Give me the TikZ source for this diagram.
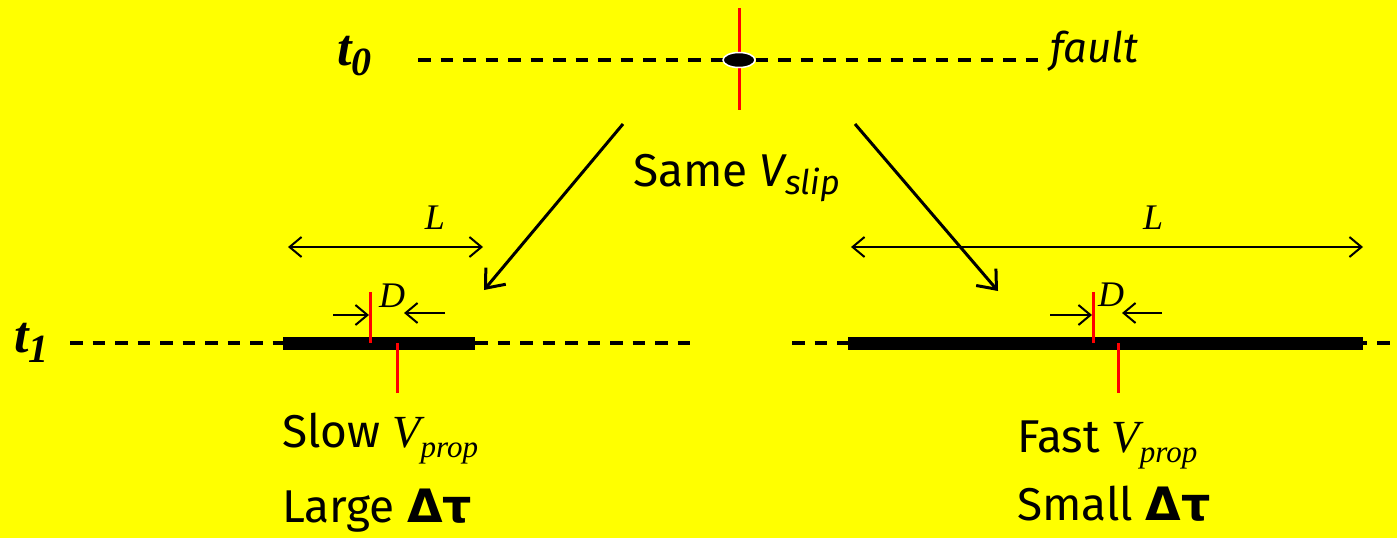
\documentclass[tikz,border=0pt]{standalone}
\usepackage{fontspec}
\usetikzlibrary{arrows.meta,shapes.geometric}
\setmainfont{Fira Sans}
\newfontfamily\tms{Liberation Serif}
\newfontfamily\grk{DejaVu Sans}
\definecolor{bgyellow}{RGB}{255,255,0}
\definecolor{slipred}{RGB}{255,0,0}
\begin{document}
\begin{tikzpicture}[x=1pt,y=-1pt,
  dsh/.style={line width=4pt, dash pattern=on 12.5pt off 10pt},
  thickbar/.style={line width=13pt},
  redl/.style={slipred, line width=3pt},
  bigarr/.style={line width=3pt, -{Straight Barb[length=16pt,width=26pt,line width=3pt]}},
  larr/.style={line width=2pt, {Straight Barb[length=12pt,width=20pt,line width=2pt]}-{Straight Barb[length=12pt,width=20pt,line width=2pt]}},
  darr/.style={line width=2pt, -{Straight Barb[length=12pt,width=20pt,line width=2pt]}},
  txt/.style={anchor=base west, inner sep=0pt, font=\fontsize{46}{50}\selectfont},
  tlab/.style={anchor=base west, inner sep=0pt},
  mlab/.style={inner sep=0pt, font=\tms\itshape\fontsize{36}{40}\selectfont}
]
\fill[bgyellow] (0,0) rectangle (1397,538);
\useasboundingbox (0,0) rectangle (1397,538);

% top fault at t0
\coordinate (f0a) at (418,60);
\coordinate (f0b) at (1040,60);
\draw[dsh] (f0a) -- (f0b);
\coordinate (r0t) at (739,8);
\coordinate (r0b) at (739,110);
\draw[redl] (r0t) -- (r0b);
\node[ellipse, fill=black, draw=white, line width=1.5pt, minimum width=32pt, minimum height=15pt, inner sep=0pt] (hypo) at (739,60) {};
\node[tlab] (t0) at (337,65) {\tms\bfseries\itshape\fontsize{52}{56}\selectfont t\raisebox{-10pt}{\fontsize{40}{40}\selectfont 0}};
\node[txt, font=\itshape\fontsize{42}{46}\selectfont] (fault) at (1050,62) {fault};

% same V_slip
\node[txt] (same) at (633,186) {Same \textit{V\raisebox{-8pt}{\fontsize{34}{36}\selectfont slip}}};
\coordinate (al0) at (623,124);
\coordinate (al1) at (484,290);
\coordinate (ar0) at (855,124);
\coordinate (ar1) at (998,291);
\draw[bigarr] (al0) -- (al1);
\draw[bigarr] (ar0) -- (ar1);

% t1 label
\node[tlab] (t1) at (14,352) {\tms\bfseries\itshape\fontsize{52}{56}\selectfont t\raisebox{-10pt}{\fontsize{40}{40}\selectfont 1}};

% left fault at t1
\coordinate (la) at (70,343);
\coordinate (lb) at (690,343);
\draw[dsh] (la) -- (lb);
\coordinate (lba) at (283,343);
\coordinate (lbb) at (475,343);
\draw[thickbar] (lba) -- (lbb);
\coordinate (lru1) at (370,292);
\coordinate (lru2) at (370,343);
\coordinate (lrl1) at (397,343);
\coordinate (lrl2) at (397,393);
\draw[redl] (lru1) -- (lru2);
\draw[redl] (lrl1) -- (lrl2);
\coordinate (lL1) at (288,247);
\coordinate (lL2) at (483,247);
\draw[larr] (lL1) -- (lL2);
\node[mlab] (lLlab) at (435,218) {L};
\coordinate (ld1) at (333,315);
\coordinate (ld2) at (369,315);
\coordinate (ld3) at (445,313);
\coordinate (ld4) at (404,313);
\draw[darr] (ld1) -- (ld2);
\draw[darr] (ld3) -- (ld4);
\node[mlab] (lDlab) at (392,296) {D};

% right fault at t1
\coordinate (ra) at (792,343);
\coordinate (rb) at (1397,343);
\draw[dsh] (ra) -- (rb);
\coordinate (rba) at (848,343);
\coordinate (rbb) at (1363,343);
\draw[thickbar] (rba) -- (rbb);
\coordinate (rru1) at (1093,292);
\coordinate (rru2) at (1093,343);
\coordinate (rrl1) at (1118,343);
\coordinate (rrl2) at (1118,393);
\draw[redl] (rru1) -- (rru2);
\draw[redl] (rrl1) -- (rrl2);
\coordinate (rL1) at (851,247);
\coordinate (rL2) at (1363,247);
\draw[larr] (rL1) -- (rL2);
\node[mlab] (rLlab) at (1153,218) {L};
\coordinate (rd1) at (1050,315);
\coordinate (rd2) at (1092,315);
\coordinate (rd3) at (1162,313);
\coordinate (rd4) at (1122,313);
\draw[darr] (rd1) -- (rd2);
\draw[darr] (rd3) -- (rd4);
\node[mlab] (rDlab) at (1111,295) {D};

% bottom labels
\node[txt] (slow) at (282,447) {Slow {\tms\itshape\fontsize{46}{50}\selectfont V\raisebox{-10pt}{\fontsize{31}{33}\selectfont prop}}};
\node[txt] (large) at (282,522) {Large {\grk\bfseries Δτ}};
\node[txt] (fast) at (1017,452) {Fast {\tms\itshape\fontsize{46}{50}\selectfont V\raisebox{-10pt}{\fontsize{31}{33}\selectfont prop}}};
\node[txt] (small) at (1017,520) {Small {\grk\bfseries Δτ}};
\end{tikzpicture}
\end{document}
